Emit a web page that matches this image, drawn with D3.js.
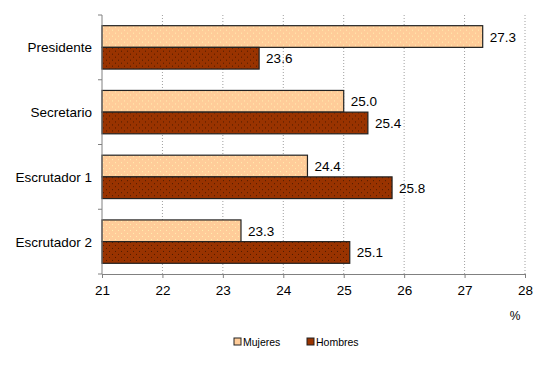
<!DOCTYPE html>
<html>
<head>
<meta charset="utf-8">
<script src="https://cdn.jsdelivr.net/npm/d3@7"></script>
<style>
  body { margin: 0; background: #fff; }
  text { font-family: Arial, "Liberation Sans", sans-serif; fill: #000; }
</style>
</head>
<body>
<div id="chart"></div>
<script>
var categories = ["Presidente", "Secretario", "Escrutador 1", "Escrutador 2"];
var series = ["Mujeres", "Hombres"];
var mujeres = [27.3, 25.0, 24.4, 23.3];
var hombres = [23.6, 25.4, 25.8, 25.1];
var xTicks = [21, 22, 23, 24, 25, 26, 27, 28];

var width = 549, height = 368;
// plot area edges (note: "top" is a reserved window property, so use plotTop)
var plotLeft = 102, plotRight = 525, plotTop = 15, plotBottom = 274;

var svg = d3.select("#chart").append("svg")
    .attr("width", width)
    .attr("height", height);

// dotted fills
var defs = svg.append("defs");
function dotPattern(id, bg, dot) {
  var p = defs.append("pattern")
      .attr("id", id)
      .attr("width", 6).attr("height", 6)
      .attr("patternUnits", "userSpaceOnUse");
  p.append("rect").attr("width", 6).attr("height", 6).attr("fill", bg);
  p.append("rect").attr("x", 1).attr("y", 1).attr("width", 1).attr("height", 1).attr("fill", dot);
  p.append("rect").attr("x", 4).attr("y", 4).attr("width", 1).attr("height", 1).attr("fill", dot);
}
dotPattern("patM", "#FFCC99", "#FFEFB0");
dotPattern("patH", "#993300", "#4d1a00");
var fills = { Mujeres: "url(#patM)", Hombres: "url(#patH)" };

var x = d3.scaleLinear().domain([21, 28]).range([plotLeft, plotRight]);
var y = d3.scaleBand().domain(categories).range([plotTop, plotBottom])
    .paddingInner(0.33).paddingOuter(0.165);
var ySub = d3.scaleBand().domain(series).range([0, y.bandwidth()]);

// gridlines
svg.append("g").selectAll("line")
  .data(xTicks.slice(1))
  .join("line")
    .attr("x1", d => x(d)).attr("x2", d => x(d))
    .attr("y1", plotTop).attr("y2", plotBottom)
    .attr("stroke", "#a0a0a0")
    .attr("stroke-dasharray", "1,2");

// bars
var rows = categories.map((c, i) => ({ cat: c, values: [
  { s: "Mujeres", v: mujeres[i] }, { s: "Hombres", v: hombres[i] }] }));

var g = svg.append("g").selectAll("g")
  .data(rows)
  .join("g")
    .attr("transform", d => `translate(0,${y(d.cat)})`);

g.selectAll("rect")
  .data(d => d.values)
  .join("rect")
    .attr("x", x(21))
    .attr("y", d => ySub(d.s))
    .attr("width", d => x(d.v) - x(21))
    .attr("height", ySub.bandwidth())
    .attr("fill", d => fills[d.s])
    .attr("stroke", "#222")
    .attr("stroke-width", 1.2);

g.selectAll("text")
  .data(d => d.values)
  .join("text")
    .attr("x", d => x(d.v) + 7)
    .attr("y", d => ySub(d.s) + ySub.bandwidth() / 2 + 5)
    .attr("font-size", 13.5)
    .text(d => d.v.toFixed(1));

// y axis
var yAxis = svg.append("g").attr("transform", `translate(${plotLeft},0)`);
yAxis.append("line")
    .attr("x1", 0).attr("x2", 0).attr("y1", plotTop).attr("y2", plotBottom)
    .attr("stroke", "#808080");
var catEdges = categories.map(c => y(c) - y.step() * y.paddingInner() / 2);
catEdges.push(plotBottom);
yAxis.selectAll(".tk").data(catEdges).join("line")
    .attr("x1", -4).attr("x2", 0)
    .attr("y1", d => d).attr("y2", d => d)
    .attr("stroke", "#808080");
yAxis.selectAll(".lbl").data(categories).join("text")
    .attr("x", -10)
    .attr("y", d => y(d) + y.bandwidth() / 2 + 5)
    .attr("text-anchor", "end")
    .attr("font-size", 13.5)
    .text(d => d);

// x axis
var xAxis = svg.append("g").attr("transform", `translate(0,${plotBottom})`)
    .call(d3.axisBottom(x).tickValues(xTicks).tickSize(4).tickFormat(d3.format("d")));
xAxis.select(".domain").attr("stroke", "#808080");
xAxis.selectAll(".tick line").attr("stroke", "#808080");
xAxis.selectAll(".tick text")
    .attr("font-size", 13.5)
    .attr("font-family", "Arial, 'Liberation Sans', sans-serif")
    .attr("dy", "1.05em");

svg.append("text")
    .attr("x", 515).attr("y", 320)
    .attr("text-anchor", "middle")
    .attr("font-size", 12)
    .text("%");

// legend
var legend = svg.append("g").selectAll("g")
  .data(series)
  .join("g")
    .attr("transform", (d, i) => `translate(${234 + i * 73},338)`);
legend.append("rect")
    .attr("width", 7).attr("height", 7)
    .attr("fill", d => d === "Mujeres" ? "#FFCC99" : "#993300")
    .attr("stroke", "#222");
legend.append("text")
    .attr("x", 9).attr("y", 8)
    .attr("font-size", 10.5)
    .text(d => d);
</script>
</body>
</html>
